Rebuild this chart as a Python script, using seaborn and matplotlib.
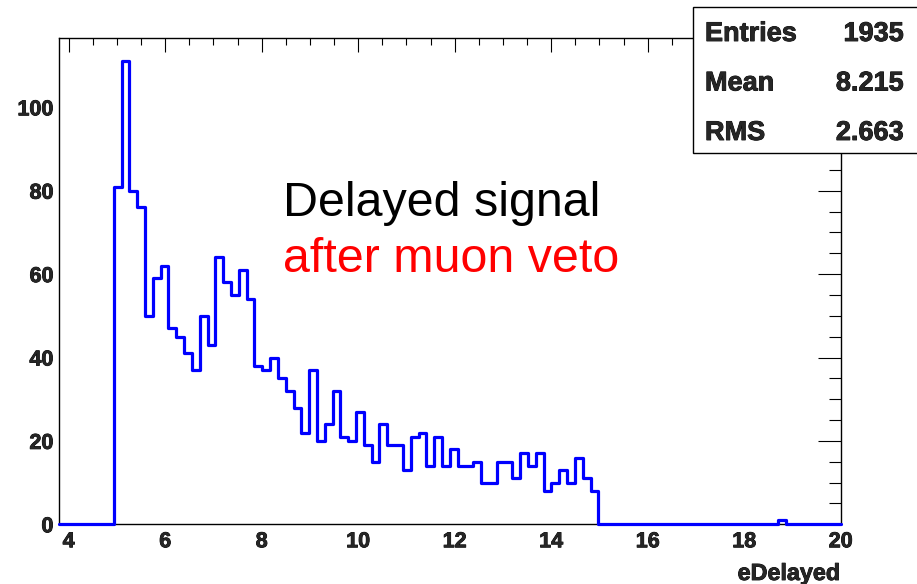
import numpy as np
import pandas as pd
import matplotlib
matplotlib.use('Agg')
import matplotlib.pyplot as plt
import matplotlib.patheffects as pe
from matplotlib.patches import Rectangle
from matplotlib.ticker import MultipleLocator
import seaborn as sns

# binning of the histogram
x_lo, x_hi, n_bins = 3.8, 20.0, 100

# bin contents, 10 bins per row
counts = [
    0, 0, 0, 0, 0, 0, 0, 81, 111, 80,
    76, 50, 59, 62, 47, 45, 41, 37, 50, 43,
    64, 58, 55, 61, 54, 38, 37, 40, 35, 32,
    28, 22, 37, 20, 24, 32, 21, 20, 27, 19,
    15, 24, 19, 19, 13, 21, 22, 14, 21, 14,
    18, 14, 14, 15, 10, 10, 15, 15, 11, 17,
    14, 17, 8, 10, 13, 10, 16, 11, 8, 0,
    0, 0, 0, 0, 0, 0, 0, 0, 0, 0,
    0, 0, 0, 0, 0, 0, 0, 0, 0, 0,
    0, 0, 1, 0, 0, 0, 0, 0, 0, 0,
]

stat_names = ['Entries', 'Mean', 'RMS']
stat_values = ['1935', '8.215', '2.663']

x_label = 'eDelayed'
note_lines = ['Delayed signal', 'after muon veto']
note_colors = ['black', 'red']

sns.set_style('white')
plt.rcParams['font.family'] = ['Liberation Sans', 'DejaVu Sans']
plt.rcParams['font.weight'] = 'bold'

# slight stroke so the bold text looks as heavy as the ROOT output
heavy = [pe.withStroke(linewidth=0.6, foreground='black')]

W, H = 917, 584
fig = plt.figure(figsize=(W / 100, H / 100), dpi=100)
ax = fig.add_axes([59 / W, 1 - 524.3 / H, (840.7 - 59) / W, (524.3 - 38.3) / H])

edges = np.linspace(x_lo, x_hi, n_bins + 1)
df = pd.DataFrame({'center': (edges[:-1] + edges[1:]) / 2, 'count': counts})

sns.histplot(data=df, x='center', weights='count', bins=n_bins,
             binrange=(x_lo, x_hi), element='step', fill=False,
             color='#0000ff', linewidth=2.3, ax=ax)
for ln in ax.lines:
    ln.set_clip_on(False)
    ln.set_zorder(5)

ax.set_xlim(x_lo, x_hi)
ax.set_ylim(0, max(counts) * 1.05)
ax.set_xlabel('')
ax.set_ylabel('')

ax.xaxis.set_major_locator(MultipleLocator(2))
ax.xaxis.set_minor_locator(MultipleLocator(0.5))
ax.yaxis.set_major_locator(MultipleLocator(20))
ax.yaxis.set_minor_locator(MultipleLocator(5))

ax.tick_params(which='both', direction='in', top=True, right=True,
               color='black', width=0.8, labelsize=15.5)
ax.tick_params(axis='x', which='major', length=10, pad=5)
ax.tick_params(axis='x', which='minor', length=5)
ax.tick_params(axis='y', which='major', length=16.5, pad=4)
ax.tick_params(axis='y', which='minor', length=8.5)
for sp in ax.spines.values():
    sp.set_color('black')
    sp.set_linewidth(1.0)
fig.canvas.draw()
for lab in ax.get_xticklabels() + ax.get_yticklabels():
    lab.set_path_effects(heavy)

# axis title at the bottom right, ROOT style
fig.text(840 / W, 1 - 580 / H, x_label, ha='right', va='baseline',
         fontsize=16.8, fontweight='bold', path_effects=heavy)

# the two line note in the middle
for i, (txt, col) in enumerate(zip(note_lines, note_colors)):
    fig.text(283 / W, 1 - (216 + i * 55.7) / H, txt, color=col, ha='left',
             va='baseline', fontsize=34.8, fontweight='normal')

# stats box
box = Rectangle((693 / W, 1 - 153 / H), 1.1, 146 / H, transform=fig.transFigure,
                facecolor='white', edgecolor='black', linewidth=1.0, zorder=10)
fig.add_artist(box)
for i, (nm, val) in enumerate(zip(stat_names, stat_values)):
    y = 1 - (41 + i * 49.5) / H
    fig.text(705 / W, y, nm, ha='left', va='baseline', fontsize=19.5,
             fontweight='bold', zorder=11, path_effects=heavy)
    fig.text(904 / W, y, val, ha='right', va='baseline', fontsize=19.5,
             fontweight='bold', zorder=11, path_effects=heavy)

fig.savefig('out.png', dpi=100)
